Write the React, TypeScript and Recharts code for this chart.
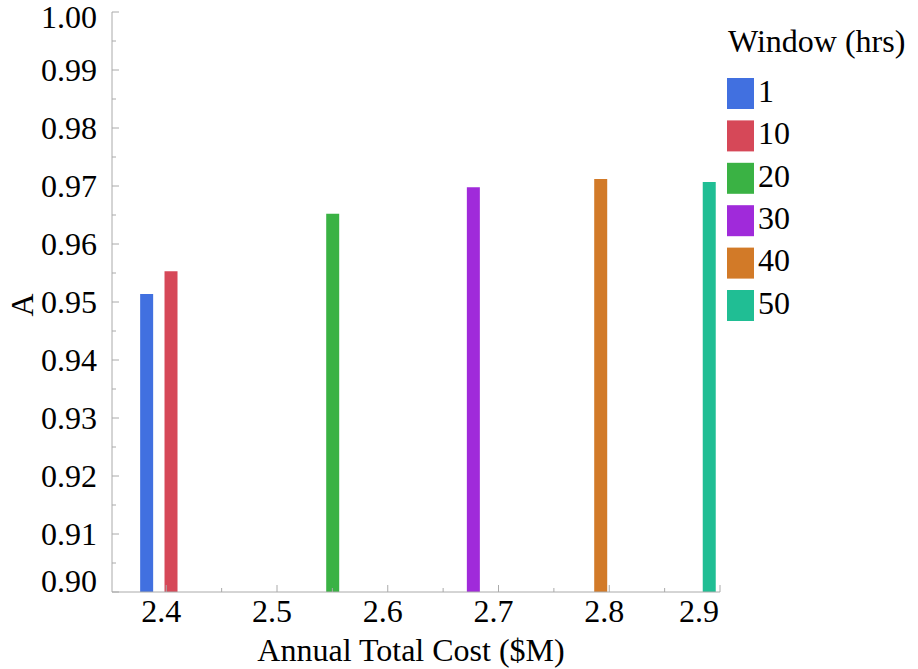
import { ComposedChart, Bar, Cell, XAxis, YAxis, Label } from "recharts";

const windows = ["1", "10", "20", "30", "40", "50"];
const costs = [2.382, 2.404, 2.55, 2.677, 2.792, 2.89];
const availability = [0.9514, 0.9553, 0.9652, 0.9698, 0.9712, 0.9707];
const colors = ["#4170E0", "#D64858", "#3AB244", "#A02ADA", "#D27A28", "#20BE94"];

const xTicks = [2.4, 2.45, 2.5, 2.55, 2.6, 2.65, 2.7, 2.75, 2.8, 2.85, 2.9];
const yTicks = [
  0.9, 0.905, 0.91, 0.915, 0.92, 0.925, 0.93, 0.935, 0.94, 0.945, 0.95,
  0.955, 0.96, 0.965, 0.97, 0.975, 0.98, 0.985, 0.99, 0.995, 1.0,
];

const FONT = "Liberation Serif, Times New Roman, DejaVu Serif, serif";
const AXIS = "#aaaaaa";

const isMajor = (v: number, step: number) => Math.abs(v / step - Math.round(v / step)) < 1e-6;

// ticks point into the plot, minor ones unlabeled; edge labels nudged inside
const XTick = (props: any) => {
  const { x, y, payload } = props;
  const major = isMajor(payload.value, 0.1);
  const last = Math.abs(payload.value - 2.9) < 1e-6;
  return (
    <g>
      <line x1={x} x2={x} y1={y} y2={y - (major ? 7 : 4)} stroke={AXIS} />
      {major && (
        <text x={x + (last ? -21 : -5)} y={y + 30} textAnchor="middle" fontSize={32} fill="#000" style={{ fontFamily: FONT }}>
          {payload.value.toFixed(1)}
        </text>
      )}
    </g>
  );
};

const YTick = (props: any) => {
  const { x, y, payload } = props;
  const major = isMajor(payload.value, 0.01);
  const v = payload.value;
  const dy = Math.abs(v - 1) < 1e-6 ? 16 : Math.abs(v - 0.9) < 1e-6 ? 0 : 11;
  return (
    <g>
      <line x1={x} x2={x + (major ? 7 : 4)} y1={y} y2={y} stroke={AXIS} />
      {major && (
        <text x={x - 15} y={y + dy} textAnchor="end" fontSize={32} fill="#000" style={{ fontFamily: FONT }}>
          {v.toFixed(2)}
        </text>
      )}
    </g>
  );
};

export default function App() {
  const data = costs.map((c, i) => ({ cost: c, a: availability[i], window: windows[i] }));

  return (
    <div style={{ position: "absolute", left: 0, top: 0, width: 918, height: 669, background: "#fff", fontFamily: FONT }}>
      <ComposedChart width={918} height={669} data={data} margin={{ top: 12, right: 198, bottom: 0, left: 0 }}>
        <XAxis
          type="number"
          dataKey="cost"
          domain={[2.351, 2.9]}
          ticks={xTicks}
          interval={0}
          height={77}
          tickSize={0}
          tickMargin={0}
          tickLine={false}
          axisLine={{ stroke: AXIS }}
          tick={XTick}
          allowDataOverflow
        >
          <Label
            content={({ viewBox }: any) => (
              <text x={viewBox.x + viewBox.width / 2 - 5} y={viewBox.y + 69} textAnchor="middle" fontSize={32} fill="#000" style={{ fontFamily: FONT }}>
                Annual Total Cost ($M)
              </text>
            )}
          />
        </XAxis>
        <YAxis
          type="number"
          domain={[0.9, 1.0]}
          ticks={yTicks}
          interval={0}
          width={112}
          tickSize={0}
          tickMargin={0}
          tickLine={false}
          axisLine={{ stroke: AXIS }}
          tick={YTick}
          allowDataOverflow
        >
          <Label
            content={({ viewBox }: any) => {
              const cy = viewBox.y + viewBox.height / 2 + 3;
              return (
                <text x={33} y={cy} transform={`rotate(-90, 33, ${cy})`} textAnchor="middle" fontSize={32} fill="#000" style={{ fontFamily: FONT }}>
                  A
                </text>
              );
            }}
          />
        </YAxis>
        <Bar dataKey="a" barSize={13} isAnimationActive={false}>
          {data.map((d, i) => (
            <Cell key={d.window} fill={colors[i]} />
          ))}
        </Bar>
      </ComposedChart>

      <svg width={190} height={330} style={{ position: "absolute", left: 720, top: 0, fontFamily: FONT }}>
        <text x={8} y={52} fontSize={32} fill="#000" style={{ fontFamily: FONT }}>
          Window (hrs)
        </text>
        {windows.map((w, i) => (
          <g key={w}>
            <rect x={7} y={78 + i * 42.4} width={27} height={31} fill={colors[i]} />
            <text x={38} y={101.7 + i * 42.4} fontSize={32} fill="#000" style={{ fontFamily: FONT }}>
              {w}
            </text>
          </g>
        ))}
      </svg>
    </div>
  );
}
